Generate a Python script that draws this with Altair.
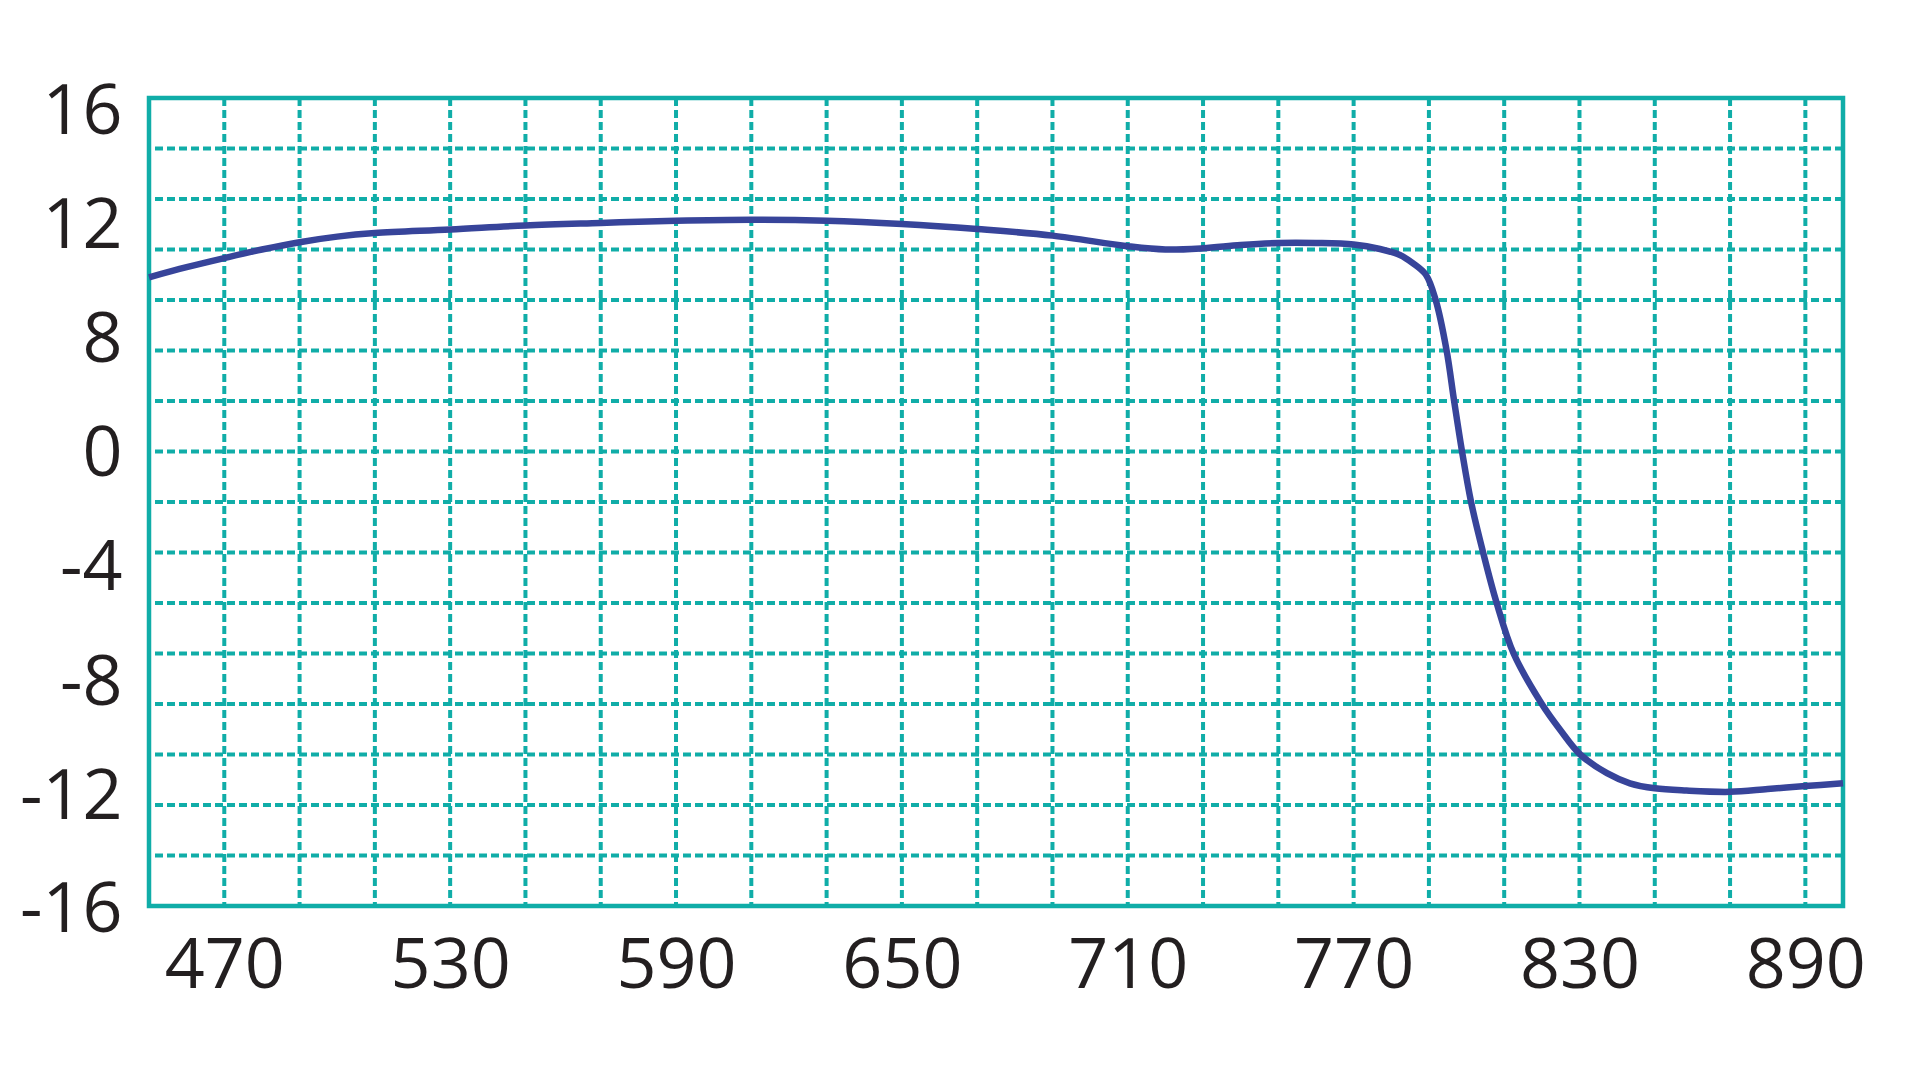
import json
import altair as alt
import pandas as pd

# ---- data ----
wavelength = [450, 460, 470, 480, 490, 500, 510, 530, 550, 570, 590, 610, 630,
              650, 670, 690, 710, 720, 730, 740, 750, 760, 770, 777, 782.3,
              785.8, 789.2, 791.8, 794.7, 796.7, 798.8, 801.2, 804.4, 808,
              812.5, 820, 824.9, 830.2, 837.3, 843.4, 850, 858.4, 870, 880,
              890, 900]
signal = [8.9, 9.3, 9.66, 10.0, 10.29, 10.51, 10.65, 10.79, 10.95, 11.05, 11.14,
          11.18, 11.14, 11.01, 10.81, 10.55, 10.13, 10.0, 10.05, 10.18, 10.26,
          10.26, 10.2, 10.02, 9.78, 9.45, 9.0, 8.0, 6.0, 4.0, 2.0, 0.0, -2.0,
          -4.0, -6.0, -8.0, -9.03, -10.0, -10.74, -11.14, -11.34, -11.43,
          -11.48, -11.37, -11.25, -11.14]

x_tick_values = [470, 530, 590, 650, 710, 770, 830, 890]
x_grid_values = [470, 490, 510, 530, 550, 570, 590, 610, 630, 650, 670, 690,
                 710, 730, 750, 770, 790, 810, 830, 850, 870, 890]
y_grid_values = [-14, -12, -10, -8, -6, -4, -2, 0, 2, 4, 6, 8, 10, 12, 14]
# the printed y labels are evenly spaced but do not sit on the grid
y_tick_labels = ["16", "12", "8", "0", "-4", "-8", "-12", "-16"]
y_label_values = [15.6, 11.08, 6.56, 2.04, -2.49, -7.01, -11.53, -16.0]

TEAL = "#10ADA8"
LINE = "#37449A"
TEXT = "#231F20"
FONT = "Open Sans"

curve = pd.DataFrame({"wl": wavelength, "v": signal})
xg = pd.DataFrame({"wl": x_grid_values})
yg = pd.DataFrame({"v": y_grid_values})

xscale = alt.Scale(domain=[450, 900], nice=False, zero=False)
yscale = alt.Scale(domain=[-16, 16], nice=False, zero=False)

label_expr = "{}[indexof({}, datum.value)]".format(
    json.dumps(y_tick_labels), json.dumps(y_label_values))

x_axis = alt.Axis(values=x_tick_values, grid=False, ticks=False, domain=False,
                  labelFont=FONT, labelFontSize=70, labelColor=TEXT,
                  labelPadding=26, labelFlush=False, labelOverlap=False,
                  format="d", title=None)
y_axis = alt.Axis(values=y_label_values, grid=False, ticks=False, domain=False,
                  labelFont=FONT, labelFontSize=70, labelColor=TEXT,
                  labelPadding=27, labelFlush=False, labelOverlap=False,
                  labelExpr=label_expr, labelOffset=4, title=None)

X = alt.X("wl:Q", scale=xscale, axis=x_axis, title=None)
Y = alt.Y("v:Q", scale=yscale, axis=y_axis, title=None)

vgrid = alt.Chart(xg).mark_rule(
    color=TEAL, strokeWidth=4, strokeDash=[8, 4]
).encode(x=X)

hgrid = alt.Chart(yg).mark_rule(
    color=TEAL, strokeWidth=4, strokeDash=[8, 4]
).encode(y=Y)

line = alt.Chart(curve).mark_line(
    color=LINE, strokeWidth=6.5, interpolate="catmull-rom"
).encode(x=X, y=Y)

chart = alt.layer(vgrid, hgrid, line).properties(
    width=1694, height=808,
    autosize=alt.AutoSizeParams(type="none"),
    padding={"left": 141, "top": 90, "right": 60, "bottom": 130},
    background="white",
).configure_view(stroke=TEAL, strokeWidth=4.5)

chart.save("out.html", embed_options={"renderer": "svg", "actions": False})
